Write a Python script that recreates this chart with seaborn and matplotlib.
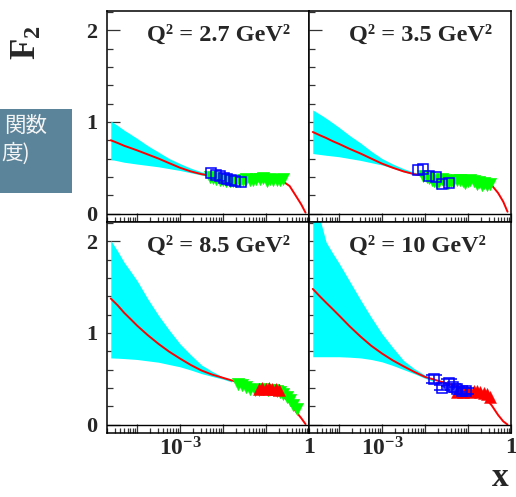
import matplotlib
matplotlib.use("Agg")
import matplotlib.pyplot as plt
import seaborn as sns
from matplotlib.patches import Rectangle
from matplotlib.ticker import FixedLocator, FixedFormatter, LogLocator, NullFormatter, MultipleLocator

sns.set_style("white")
plt.rcParams["font.family"] = ["Liberation Serif", "DejaVu Serif"]
plt.rcParams["mathtext.fontset"] = "custom"
plt.rcParams["mathtext.rm"] = "Liberation Serif"
plt.rcParams["mathtext.bf"] = "Liberation Serif:bold"
plt.rcParams["mathtext.it"] = "Liberation Serif:italic"

# ---------------- data ----------------
panel_titles = ["Q² = 2.7 GeV²", "Q² = 3.5 GeV²", "Q² = 8.5 GeV²", "Q² = 10 GeV²"]

curve_x = [2.45e-5, 3.55e-5, 5.0e-5, 7.1e-5, 1e-4, 1.78e-4, 3.16e-4, 5.6e-4, 1e-3, 1.78e-3,
           3.16e-3, 5.6e-3, 1e-2, 3.16e-2, 0.1, 0.25, 0.355, 0.5, 0.66, 0.83]
curve_q27 = [0.80, 0.77, 0.74, 0.715, 0.69, 0.645, 0.60, 0.55, 0.50, 0.46,
             0.43, 0.41, 0.39, 0.375, 0.365, 0.35, 0.30, 0.19, 0.10, 0.01]
curve_q35 = [0.89, 0.855, 0.825, 0.79, 0.76, 0.705, 0.655, 0.60, 0.545, 0.50,
             0.46, 0.43, 0.41, 0.39, 0.38, 0.36, 0.31, 0.225, 0.13, 0.02]
curve_q85 = [1.375, 1.30, 1.22, 1.15, 1.08, 0.975, 0.88, 0.795, 0.72, 0.65,
             0.59, 0.545, 0.51, 0.44, 0.39, 0.31, 0.24, 0.14, 0.07, 0.005]
curve_q10 = [1.48, 1.40, 1.33, 1.26, 1.19, 1.07, 0.96, 0.86, 0.775, 0.70,
             0.636, 0.575, 0.52, 0.45, 0.39, 0.29, 0.21, 0.105, 0.035, 0.0]

band_x = [2.45e-5, 3.55e-5, 5.0e-5, 7.1e-5, 1e-4, 1.78e-4, 3.16e-4, 5.6e-4, 1e-3, 1.78e-3,
          3.16e-3, 5.6e-3, 1e-2, 1.58e-2]
band_hi_q27 = [1.01, 0.96, 0.91, 0.865, 0.82, 0.74, 0.67, 0.60, 0.545, 0.495, 0.455, 0.425, 0.40, 0.38]
band_lo_q27 = [0.59, 0.575, 0.56, 0.55, 0.54, 0.525, 0.51, 0.49, 0.47, 0.445, 0.42, 0.40, 0.385, 0.37]
band_hi_q35 = [1.13, 1.085, 1.04, 0.99, 0.94, 0.85, 0.77, 0.68, 0.60, 0.54, 0.49, 0.45, 0.42, 0.40]
band_lo_q35 = [0.655, 0.645, 0.636, 0.628, 0.62, 0.60, 0.58, 0.555, 0.53, 0.495, 0.455, 0.425, 0.40, 0.385]
band_hi_q85 = [2.01, 1.89, 1.77, 1.67, 1.57, 1.37, 1.19, 1.03, 0.88, 0.76, 0.65, 0.58, 0.52, 0.48]
band_lo_q85 = [0.727, 0.724, 0.72, 0.715, 0.71, 0.695, 0.68, 0.655, 0.63, 0.595, 0.556, 0.525, 0.495, 0.465]
band_hi_q10 = [2.55, 2.25, 1.99, 1.87, 1.76, 1.56, 1.36, 1.17, 0.99, 0.84, 0.70, 0.61, 0.54, 0.49]
band_lo_q10 = [0.74, 0.74, 0.74, 0.74, 0.74, 0.735, 0.727, 0.71, 0.684, 0.645, 0.60, 0.555, 0.505, 0.47]

# green down-triangles
green_x_q27 = [0.00489, 0.00585, 0.00699, 0.00836, 0.0100, 0.01197, 0.01432, 0.0171, 0.0205, 0.0245,
               0.0293, 0.0351, 0.0420, 0.0501, 0.0600, 0.0718, 0.0859, 0.1027, 0.1228, 0.1469,
               0.1757, 0.2102, 0.2514]
green_y_q27 = [0.40, 0.385, 0.372, 0.371, 0.362, 0.36, 0.353, 0.350, 0.353, 0.356,
               0.364, 0.372, 0.366, 0.362, 0.378, 0.372, 0.393, 0.360, 0.375, 0.368,
               0.371, 0.362, 0.378]
green_x_q35 = [0.00914, 0.01093, 0.0125, 0.01432, 0.0163, 0.0187, 0.0215, 0.0245, 0.0293, 0.0351,
               0.0400, 0.0458, 0.0548, 0.0656, 0.0750, 0.0859, 0.1000, 0.1124, 0.1344, 0.1607,
               0.1850, 0.2102, 0.2400, 0.2754, 0.3177]
green_y_q35 = [0.407, 0.40, 0.385, 0.364, 0.355, 0.338, 0.36, 0.382, 0.364, 0.338,
               0.36, 0.353, 0.371, 0.364, 0.355, 0.338, 0.36, 0.364, 0.353, 0.327,
               0.345, 0.309, 0.33, 0.309, 0.327]
green_x_q85 = [0.0224, 0.0278, 0.0351, 0.0435, 0.0548, 0.0680, 0.0859, 0.1124, 0.1469, 0.1757,
               0.2102, 0.2514, 0.301, 0.360, 0.4305, 0.515]
green_y_q85 = [0.447, 0.429, 0.411, 0.393, 0.375, 0.382, 0.393, 0.375, 0.382, 0.364,
               0.356, 0.338, 0.302, 0.265, 0.211, 0.175]

# red up-triangles
red_x_q85 = [0.068, 0.0815, 0.0973, 0.1164, 0.1393, 0.1667, 0.1995]
red_y_q85 = [0.385, 0.395, 0.385, 0.395, 0.385, 0.39, 0.38]
red_x_q10 = [0.0548, 0.0656, 0.0785, 0.094, 0.1124, 0.1344, 0.1607, 0.1923, 0.230, 0.2754, 0.330]
red_y_q10 = [0.356, 0.364, 0.356, 0.367, 0.356, 0.364, 0.371, 0.356, 0.349, 0.338, 0.302]

# blue open squares
blue_x_q27 = [0.00515, 0.00675, 0.00836, 0.01038, 0.01263, 0.01566, 0.0194, 0.0268]
blue_y_q27 = [0.447, 0.422, 0.407, 0.393, 0.378, 0.364, 0.356, 0.349]
blue_x_q35 = [0.00675, 0.00883, 0.0122, 0.0181, 0.0245, 0.0363]
blue_y_q35 = [0.48, 0.491, 0.407, 0.40, 0.32, 0.335]
blue_x_q10 = [0.0165, 0.0245, 0.0370, 0.0458, 0.0568, 0.0718, 0.0905]
blue_y_q10 = [0.495, 0.404, 0.458, 0.411, 0.385, 0.364, 0.364]
blue_err_q10 = [0.045, 0.03, 0.035, 0.03, 0.03, 0.03, 0.03]

x_major = [1e-4, 1e-3, 1e-2, 1e-1, 1.0]
x_major_labels = ["", r"$\mathbf{10^{-3}}$", "", "", r"$\mathbf{1}$"]
y_major = [0, 1, 2]
y_major_labels = ["0", "1", "2"]

panels = [
    dict(title=panel_titles[0], cy=curve_q27, bh=band_hi_q27, bl=band_lo_q27,
         gx=green_x_q27, gy=green_y_q27, rx=None, ry=None,
         bx=blue_x_q27, by=blue_y_q27, be=None),
    dict(title=panel_titles[1], cy=curve_q35, bh=band_hi_q35, bl=band_lo_q35,
         gx=green_x_q35, gy=green_y_q35, rx=None, ry=None,
         bx=blue_x_q35, by=blue_y_q35, be=None),
    dict(title=panel_titles[2], cy=curve_q85, bh=band_hi_q85, bl=band_lo_q85,
         gx=green_x_q85, gy=green_y_q85, rx=red_x_q85, ry=red_y_q85,
         bx=None, by=None, be=None),
    dict(title=panel_titles[3], cy=curve_q10, bh=band_hi_q10, bl=band_lo_q10,
         gx=None, gy=None, rx=red_x_q10, ry=red_y_q10,
         bx=blue_x_q10, by=blue_y_q10, be=blue_err_q10),
]

# ---------------- figure ----------------
W, H = 516, 497
fig = plt.figure(figsize=(W / 100, H / 100), dpi=100)
fig.patch.set_facecolor("white")

def fx(px):
    return px / W

def fy(py):
    return 1 - py / H

pw, ph = 202, 211
origins = [(107, 11), (309, 11), (107, 222), (309, 222)]

CYAN = "#00ffff"
RED = "#ff0000"
GREEN = "#00ff00"
BLUE = "#0000ff"

for i, (p, (ox, oy)) in enumerate(zip(panels, origins)):
    ax = fig.add_axes([fx(ox), fy(oy + ph), pw / W, ph / H])
    ax.set_facecolor("white")
    ax.set_xscale("log")
    ax.set_xlim(2.0e-5, 1.0)
    ax.set_ylim(-0.092, 2.21)

    ax.fill_between(band_x, p["bl"], p["bh"], color=CYAN, linewidth=0, zorder=1)
    sns.lineplot(x=curve_x, y=p["cy"], color=RED, linewidth=1.4, ax=ax, zorder=2,
                 estimator=None, sort=False)
    if p["gx"] is not None:
        sns.scatterplot(x=p["gx"], y=p["gy"], marker="v", s=80, color=GREEN,
                        edgecolor=GREEN, linewidth=0.3, ax=ax, zorder=3)
    if p["rx"] is not None:
        sns.scatterplot(x=p["rx"], y=p["ry"], marker="^", s=75, color=RED,
                        edgecolor=RED, linewidth=0.3, ax=ax, zorder=4)
    if p["bx"] is not None:
        if p["be"] is not None:
            ax.errorbar(p["bx"], p["by"], yerr=p["be"], fmt="s", ms=7.5, mfc="none",
                        mec=BLUE, mew=1.1, ecolor=BLUE, elinewidth=1.1, capsize=6,
                        capthick=1.1, zorder=5)
        else:
            ax.plot(p["bx"], p["by"], "s", ms=7.5, mfc="none", mec=BLUE, mew=1.1,
                    linestyle="none", zorder=5)

    ax.axhline(0, color="black", linewidth=1.0, zorder=6)

    for s in ax.spines.values():
        s.set_color("black")
        s.set_linewidth(1.1)
        s.set_visible(True)

    ax.xaxis.set_major_locator(FixedLocator(x_major))
    ax.xaxis.set_minor_locator(LogLocator(base=10, subs=[2, 3, 4, 5, 6, 7, 8, 9], numticks=20))
    ax.xaxis.set_minor_formatter(NullFormatter())
    ax.yaxis.set_major_locator(FixedLocator(y_major))
    ax.yaxis.set_minor_locator(MultipleLocator(0.2))
    ax.yaxis.set_minor_formatter(NullFormatter())

    ax.tick_params(axis="both", which="both", direction="in", top=False, right=False,
                   bottom=True, left=True, color="#333333", width=0.9)
    ax.tick_params(axis="x", which="major", length=6.5, pad=3)
    ax.tick_params(axis="x", which="minor", length=3.6)
    ax.tick_params(axis="y", which="major", length=9.5, pad=7)
    ax.tick_params(axis="y", which="minor", length=4.3)

    if i >= 2:
        ax.xaxis.set_major_formatter(FixedFormatter(x_major_labels))
        ax.tick_params(axis="x", labelsize=17)
    else:
        ax.xaxis.set_major_formatter(FixedFormatter([""] * len(x_major)))
    if i % 2 == 0:
        ax.yaxis.set_major_formatter(FixedFormatter(y_major_labels))
        ax.tick_params(axis="y", labelsize=16)
        for lab in ax.get_yticklabels():
            lab.set_fontweight("bold")
    else:
        ax.yaxis.set_major_formatter(FixedFormatter([""] * len(y_major)))

    ax.set_xlabel("")
    ax.set_ylabel("")
    ax.grid(False)
    ax.text(0.2, 0.886, p["title"], transform=ax.transAxes, ha="left", va="center",
            fontsize=17.5, fontweight="bold", zorder=10)

# axis titles
fig.text(fx(27), fy(43), r"$\mathbf{F_2}$", rotation=90, fontsize=25,
         ha="center", va="center")
fig.text(fx(500), fy(478), r"$\mathbf{x}$", fontsize=24, ha="center", va="center")

# slide box at the left
fig.patches.append(Rectangle((0, fy(193)), fx(72), 84 / H, transform=fig.transFigure,
                             facecolor="#5b849a", edgecolor="none", zorder=0))
fig.text(fx(47), fy(126), "関数", ha="right", va="center", color="#f4f4f4",
         fontsize=15.5, family=["Noto Sans CJK JP", "DejaVu Sans"])
fig.text(fx(1), fy(154), "度)", ha="left", va="center", color="#f4f4f4",
         fontsize=15.5, family=["Noto Sans CJK JP", "DejaVu Sans"])

fig.savefig("out.png", dpi=100, facecolor="white")
